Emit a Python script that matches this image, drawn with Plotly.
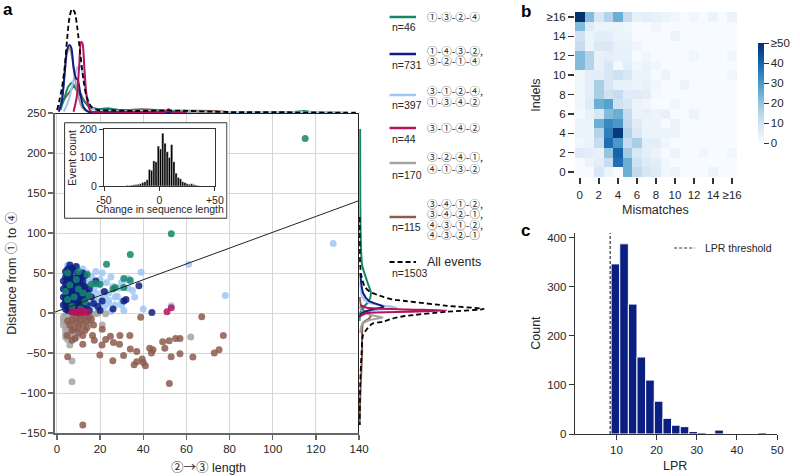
import plotly.graph_objects as go

FONT = "Liberation Sans, Arial, DejaVu Sans, sans-serif"
CJK = "Noto Sans CJK JP"
TXT = "#262626"
W, H = 800, 476

C_GREEN = "#13866b"
C_NAVY = "#0d1f80"
C_LBLUE = "#9fc7f3"
C_CRIM = "#b5145d"
C_GRAY = "#a4a4a4"
C_BROWN = "#8c5c4c"

# ---------------- panel a: scatter data ----------------
navy_x = [4,5,6,7,8,10,12,13, 4,5,6,7,8,9,10,11,12, 4,5,6,7,8,9,10,11,13,
          4,5,6,7,8,9,10,11,12,14, 4,5,6,7,8,9,10,11,12,13, 4,5,6,7,8,9,10,11,12,14,
          4,5,6,7,8,9,10,11,13,15, 3,3,3,3,16,15,17,19,21, 22,31,32,38,44,18,26,20,6,9,
          5,7,9,11,6,8,10,12,4,6]
navy_y = [52,55,50,56,53,48,50,47, 45,42,46,40,44,41,38,43,40, 36,33,38,35,30,34,31,36,33,
          28,25,29,26,22,27,24,28,23,26, 20,17,21,18,14,19,16,20,15,18, 12,9,13,10,7,11,8,12,6,10,
          5,3,6,2,4,3,2,5,4,3, 40,30,20,10,20,30,12,8,15, 27,15,17,34,0.5,40,5,3,60,58,
          47,31,22,9,24,37,44,33,16,43]

lblue_x = [128,78,61,53,39,33,33,29,24,22,20,18,15,24,28,33,30,26,21,16,18,21,8,13,22,24,30,30,27,17,
           15,12,14,10,11,13,14,16,12,19,9,10,8,17,19,20,23,25,35,36,40,31,25,6,7,5,15,13,27,22,18]
lblue_y = [87,22,61,9,51,43,41,31,25,21,16,14,11,16,21,31,38,33,25,46,52,50,58,31,25,12,15,10,20,18,
           24,55,50,45,35,20,5,8,3,2,25,12,35,30,35,42,38,45,28,20,5,3,2,15,45,60,38,45,10,8,25]

green_x = [115,53,34,23,34,14,5,20,10,27,5,13,16,31,31,26,18,8,7,12,6,9,11,15,4,10]
green_y = [218,99,73,61,41,48,50,36,30,32,17,14,36,32,43,30,37,20,8,25,35,42,5,22,27,52]

crim_x = [11.5,12,8,10,11,13,9,12,10.5,51,53,14,7]
crim_y = [2,1,2,1,3,2,0.5,3,0.5,1.6,6.7,1,1]

gray_x = [62,7,7,5,4,4,5,6,5,6,7,8,19,22.6,21,3,3,4,9,10,12,6,8,4,3,5,7,10,14,16,13,11,9,6,18,15,4,6]
gray_y = [-30,-60,-86,-33,-25,-20,-17,-13,-8,-5,-3,-2,0,-1,-15,-10,-5,-3,-8,-3,-6,-20,-12,-30,-15,-23,-28,-14,
          -4,-2,-10,-22,-30,-40,-1,-12,-12,-26]

brown_x = [38.8,67.1,77.1,75.1,72.9,63,57,57,55,52,49,50,52.9,52.1,43,44.5,43.8,39.5,40,41,37,35.8,37,34,30.9,
           33.8,29.2,29,26.2,25.9,22.6,24.8,19.9,20.9,21,16.5,17.3,12,12,5,7,8.4,4.7,
           5,6,7,8,9,10,11,12,13,14,15,16,17,10,9,11,13,7,12,14]
brown_y = [-5.4,-4.6,-28,-46,-50,-55,-51,-32,-32,-34.6,-36,-44,-54.6,-88,-44,-46,-50,-57.5,-62,-66,-61,-64.6,-48,-45,-53,
           -28,-28,-39,-37,-59.6,-33,-29,-52.5,-40,-20.4,-28,-34,-39,-140,-54.6,-34,-32,-28,
           -10,-15,-8,-20,-12,-18,-9,-14,-22,-10,-5,-8,-15,-25,-5,-3,-4,-22,-28,-18]

fit_x = [-0.9, 140]
fit_y = [1.1, 140.5]

# ---------------- marginal KDE curves ----------------
top_black_x = [0.1,1.2,2.4,3.6,4.7,5.8,7,8.2,9.4,10.8,12.3,13.8,16,19,26.7,37,52,79,110,133,141]
top_black_h = [3,13,26,46,73,95,104,101,86,60,33,16,6,3,2.5,2,2.5,1,0.7,0.3,0.2]
top_navy_x = [0.9,2.4,3.6,4.7,5.8,6.7,7.7,8.8,9.7,10.8,12.3,14.5,20,40,60]
top_navy_h = [1.3,13,40,63,68,65,46,35,33,20,6,1.3,0.8,0.8,0.3]
top_gray_x = [1.4,3.2,4.7,5.8,7,8.5,10,11.8,14.5,25,40,62,80]
top_gray_h = [3,30,60,65,56,33,16,5,1.3,0.8,0.6,1.2,0.3]
top_crim_x = [7.7,9.2,10.3,11.2,11.8,12.7,13.8,15.3,17,35,50.2,51.7,53.2,60]
top_crim_h = [1.3,16,46,71,70,46,16,3,0.5,0.3,1.3,3.7,1.3,0.3]
top_lblue_x = [3.2,5.5,7.7,9.7,10.8,11.8,13.3,15.3,17.6,25,40,62,78,100,128,135]
top_lblue_h = [1.3,13,33,46,47,41,23,8,3,2,1.5,1.5,1,0.8,1,0.5]
top_green_x = [1.7,3.6,5.2,7,8.5,10,12.3,14.5,17.6,23.6,26.7,34,42,52.4,70,110,114.5,119]
top_green_h = [3,16,26,30,25,20,13,7,3.7,4.7,3.7,1.3,1,2,0.5,1,2,0.5]
top_brown_x = [0.9,3.2,5.5,7.7,9.2,10.8,13,16,20.6,31,40,52,73,82]
top_brown_h = [3,13,20,26,25,20,11,5.7,3.7,3,3.7,2.3,2,0.3]

r_black_w = [0.5,1,2.5,5.7,10.7,24,34,47,90,127,90,47,34,24,14,10.7,4,2.5,1,0.5]
r_black_y = [120,60,45,33,26.7,20.4,17,15,9,5,1.6,-3.75,-7,-11,-13,-16,-27.5,-50,-90,-140]
r_crim_w = [1,8,50,89,50,8,1]
r_crim_y = [10,6.5,4.5,3,1.5,0,-4]
r_lblue_w = [1,3,8,20,38,20,5,1]
r_lblue_y = [40,20,14,10,7,4,1,-5]
r_navy_w = [1,4,10,25,12,3,0.5]
r_navy_y = [50,25,15,8,4,0,-5]
r_gray_w = [0.5,3,10,24,10,3,1]
r_gray_y = [8,2,-2,-5.5,-9,-14,-25]
r_brown_w = [0.5,3,12,10,4,3,3,2,1,0.5]
r_brown_y = [20,5,-3,-7,-12,-25,-50,-80,-110,-140]
r_green_w = [1,1.5,3,8,12,10,5,1,0.5]
r_green_y = [230,100,60,40,25,15,8,0,-10]

inset_x = [-29,-27,-25,-23,-21,-19,-17,-15,-13,-11,-9,-7,-5,-3,-1,1,3,5,7,9,11,13,15,17,19,21,23,25,27,29,31,33,35]
inset_y = [2,1,3,4,5,6,8,12,15,22,58,55,88,85,140,130,185,150,120,100,145,85,45,30,25,15,12,8,6,8,5,3,1]

# ---------------- panel b: heatmap ----------------
heat_ticks = ["0","2","4","6","8","10","12","14","≥16"]
heat_z = [
    [0,0,8,3,0,25,13,8,6,2,3,0,0,0,3,0,0],
    [0,3,5,12,38,25,10,6,5,2,0,0,0,0,0,0,0],
    [6,5,4,20,40,18,8,5,3,0,3,0,0,2,0,0,2],
    [2,3,12,38,30,12,17,5,5,2,0,0,0,0,0,0,0],
    [3,3,15,35,48,15,7,3,3,3,3,0,0,0,0,0,0],
    [3,3,25,33,30,13,6,3,3,0,3,0,0,0,0,0,0],
    [1,4,8,22,25,12,3,4,3,4,0,0,3,0,0,0,0],
    [2,6,25,28,10,8,3,2,0,0,2,0,0,0,0,0,0],
    [2,5,17,10,12,6,6,5,1,0,0,0,0,0,0,0,0],
    [2,5,17,8,4,4,3,4,2,0,0,3,0,0,0,0,0],
    [2,5,5,8,10,8,3,3,0,3,0,0,0,0,0,0,2],
    [22,15,4,8,1,5,2,3,2,0,0,0,0,0,0,0,0],
    [22,15,4,5,4,4,0,2,0,0,0,0,2,0,0,0,2],
    [12,3,7,7,4,4,2,0,0,0,0,0,0,0,0,0,0],
    [10,3,5,5,3,3,0,0,0,0,3,0,0,0,0,0,0],
    [22,6,3,3,3,2,0,0,2,0,0,0,0,0,0,0,0],
    [55,22,8,15,25,12,4,5,4,3,2,0,2,0,3,0,3],
]

# ---------------- panel c: LPR histogram ----------------
lpr_x = [9.75,11.9,14.05,16.2,18.35,20.5,22.65,24.8,26.95,29.1,31.25,33.4,35.55,37.7,39.85,42.0,44.15,46.3]
lpr_count = [347,388,265,157,110,67,32,18,15,5,3,1,8,1,0,0,0,3]
lpr_threshold = 8.45

def dx(a, b):
    return [a / W, b / W]

def dy(top, bottom):
    return [1 - bottom / H, 1 - top / H]

fig = go.Figure(layout=dict(template="none"))

for xs, ys, c in [(lblue_x, lblue_y, C_LBLUE), (gray_x, gray_y, C_GRAY), (brown_x, brown_y, C_BROWN),
                  (navy_x, navy_y, C_NAVY), (green_x, green_y, C_GREEN), (crim_x, crim_y, C_CRIM)]:
    fig.add_trace(go.Scatter(x=xs, y=ys, mode="markers", xaxis="x", yaxis="y",
                             marker=dict(color=c, size=7, opacity=0.85, line=dict(width=0)),
                             hoverinfo="skip"))
fig.add_trace(go.Scatter(x=fit_x, y=fit_y, mode="lines", xaxis="x", yaxis="y",
                         line=dict(color="#222", width=1), hoverinfo="skip"))

for xs, hs, c in [(top_brown_x, top_brown_h, C_BROWN), (top_green_x, top_green_h, C_GREEN),
                  (top_lblue_x, top_lblue_h, C_LBLUE), (top_gray_x, top_gray_h, C_GRAY),
                  (top_navy_x, top_navy_h, C_NAVY), (top_crim_x, top_crim_h, C_CRIM)]:
    fig.add_trace(go.Scatter(x=xs, y=hs, mode="lines", xaxis="x2", yaxis="y2",
                             line=dict(color=c, width=2, shape="spline", smoothing=0.8), hoverinfo="skip"))
fig.add_trace(go.Scatter(x=top_black_x, y=top_black_h, mode="lines", xaxis="x2", yaxis="y2",
                         line=dict(color="black", width=1.8, dash="5px,3px", shape="spline", smoothing=0.8),
                         hoverinfo="skip"))

for ws, ys, c in [(r_brown_w, r_brown_y, C_BROWN), (r_green_w, r_green_y, C_GREEN),
                  (r_gray_w, r_gray_y, C_GRAY), (r_lblue_w, r_lblue_y, C_LBLUE),
                  (r_navy_w, r_navy_y, C_NAVY), (r_crim_w, r_crim_y, C_CRIM)]:
    fig.add_trace(go.Scatter(x=ws, y=ys, mode="lines", xaxis="x3", yaxis="y3",
                             line=dict(color=c, width=2, shape="spline", smoothing=0.6), hoverinfo="skip"))
fig.add_trace(go.Scatter(x=r_black_w, y=r_black_y, mode="lines", xaxis="x3", yaxis="y3",
                         line=dict(color="black", width=1.8, dash="5px,3px", shape="spline", smoothing=0.6),
                         hoverinfo="skip"))

fig.add_trace(go.Scatter(x=[0, 1, 1, 0, 0], y=[0, 0, 1, 1, 0], mode="lines", fill="toself",
                         fillcolor="white", line=dict(color="#333", width=1), xaxis="x4", yaxis="y4",
                         hoverinfo="skip"))
fig.add_trace(go.Bar(x=inset_x, y=inset_y, width=2, xaxis="x5", yaxis="y5",
                     marker=dict(color="black", line=dict(color="white", width=0.4)), hoverinfo="skip"))

blues = [[0, "rgb(247,251,255)"], [0.125, "rgb(222,235,247)"], [0.25, "rgb(198,219,239)"],
         [0.375, "rgb(158,202,225)"], [0.5, "rgb(107,174,214)"], [0.625, "rgb(66,146,198)"],
         [0.75, "rgb(33,113,181)"], [0.875, "rgb(8,81,156)"], [1, "rgb(8,48,107)"]]
fig.add_trace(go.Heatmap(z=heat_z, x=list(range(17)), y=list(range(17)), xaxis="x6", yaxis="y6",
                         colorscale=blues, zmin=0, zmax=50, hoverinfo="skip",
                         colorbar=dict(x=762 / W, xanchor="left", y=1 - 93 / H, yanchor="middle",
                                       len=120 / H, lenmode="fraction", thickness=6, outlinewidth=0,
                                       tickvals=[0, 10, 20, 30, 40, 50],
                                       ticktext=["0", "10", "20", "30", "40", "≥50"],
                                       ticks="outside", ticklen=5, tickcolor="#333",
                                       tickfont=dict(size=11.5, color=TXT, family=FONT))))

fig.add_trace(go.Bar(x=lpr_x, y=lpr_count, width=2.15, xaxis="x7", yaxis="y7",
                     marker=dict(color="#0b1e82", line=dict(color="white", width=1)), hoverinfo="skip"))
fig.add_trace(go.Scatter(x=[lpr_threshold, lpr_threshold], y=[0, 410], mode="lines", xaxis="x7", yaxis="y7",
                         line=dict(color="#333", width=1.2, dash="3px,2px"), hoverinfo="skip"))

tickfont = dict(size=11.5, color=TXT, family=FONT)
SP = "#666"
hidden = dict(visible=False, automargin=False, showgrid=False, zeroline=False)

fig.update_layout(
    width=W, height=H, margin=dict(l=0, r=0, t=0, b=0, pad=0), autosize=False,
    paper_bgcolor="white", plot_bgcolor="white", showlegend=False,
    font=dict(family=FONT, color=TXT),
    xaxis=dict(domain=dx(56, 366), range=[-0.9, 140], tickvals=[0, 20, 40, 60, 80, 100, 120, 140],
               showgrid=True, gridcolor="#d6d6d6", gridwidth=1, zeroline=False, automargin=False,
               showline=True, linecolor=SP, linewidth=1.5, ticks="outside", ticklen=5, tickcolor=SP,
               tickwidth=1.3, tickfont=tickfont, anchor="y"),
    yaxis=dict(domain=dy(113, 433), range=[-150, 250], tickvals=[-150, -100, -50, 0, 50, 100, 150, 200, 250],
               ticktext=["−150", "−100", "−50", "0", "50", "100", "150", "200", "250"],
               showgrid=True, gridcolor="#d6d6d6", gridwidth=1, zeroline=False, automargin=False,
               showline=True, linecolor=SP, linewidth=1.5, ticks="outside", ticklen=5, tickcolor=SP,
               tickwidth=1.3, tickfont=tickfont, anchor="x"),
    xaxis2=dict(domain=dx(56, 366), range=[-0.9, 140], showline=True, linecolor="#222", linewidth=1,
                showticklabels=False, ticks="", showgrid=False, zeroline=False, automargin=False, anchor="y2"),
    yaxis2=dict(domain=dy(3, 113), range=[0, 110], anchor="x2", **hidden),
    xaxis3=dict(domain=dx(366, 500), range=[0, 134], anchor="y3", **hidden),
    yaxis3=dict(domain=dy(113, 433), range=[-150, 250], showline=True, linecolor="#222", linewidth=1,
                showticklabels=False, ticks="", showgrid=False, zeroline=False, automargin=False, anchor="x3"),
    xaxis4=dict(domain=dx(65, 232), range=[-0.005, 1.005], anchor="y4", **hidden),
    yaxis4=dict(domain=dy(122, 219), range=[-0.008, 1.008], anchor="x4", **hidden),
    xaxis5=dict(domain=dx(106, 219), range=[-50, 50], tickvals=[-50, 0, 50], ticktext=["-50", "0", "+50"],
                showline=True, mirror=True, linecolor="#333", linewidth=1, ticks="outside", ticklen=4,
                tickcolor="#333", showgrid=False, zeroline=False, automargin=False,
                tickfont=dict(size=10.5, color=TXT, family=FONT), anchor="y5"),
    yaxis5=dict(domain=dy(129, 186), range=[0, 200], tickvals=[0, 100, 200],
                showline=True, mirror=True, linecolor="#333", linewidth=1, ticks="outside", ticklen=4,
                tickcolor="#333", showgrid=False, zeroline=False, automargin=False,
                tickfont=dict(size=10.5, color=TXT, family=FONT), anchor="x5"),
    xaxis6=dict(domain=dx(586, 751), range=[-0.5, 16.5], tickvals=[0, 2, 4, 6, 8, 10, 12, 14, 16],
                ticktext=heat_ticks, showline=False, showgrid=False, zeroline=False, ticks="outside",
                automargin=False, ticklen=6, tickwidth=1.5, tickcolor="#333", tickfont=tickfont,
                ticklabelstandoff=1, anchor="y6"),
    yaxis6=dict(domain=dy(12, 177), range=[-0.5, 16.5], tickvals=[0, 2, 4, 6, 8, 10, 12, 14, 16],
                ticktext=heat_ticks, showline=False, showgrid=False, zeroline=False, ticks="outside",
                automargin=False, ticklen=6, tickwidth=1.5, tickcolor="#333", tickfont=tickfont, anchor="x6"),
    xaxis7=dict(domain=dx(586, 792), range=[-0.3, 50], tickvals=[10, 20, 30, 40, 50],
                showline=True, linecolor="#333", linewidth=1.3, ticks="outside", ticklen=5, tickcolor="#333",
                showgrid=False, zeroline=False, automargin=False, tickfont=tickfont, anchor="y7"),
    yaxis7=dict(domain=dy(233, 434), range=[0, 410], tickvals=[0, 100, 200, 300, 400],
                showline=True, linecolor="#333", linewidth=1.3, ticks="outside", ticklen=5, tickcolor="#333",
                showgrid=False, zeroline=False, automargin=False, tickfont=tickfont, anchor="x7"),
)

ann = []
shapes = []

def text(px, py, s, size=12, xanchor="center", angle=0, bold=False, family=FONT):
    ann.append(dict(x=px / W, y=1 - py / H, xref="paper", yref="paper", text=("<b>%s</b>" % s) if bold else s,
                    showarrow=False, xanchor=xanchor, yanchor="middle", textangle=angle,
                    font=dict(size=size, color="black" if bold else TXT, family=family)))

def circ(s):
    return "<span style='font-family:%s'>%s</span>" % (CJK, s)

text(8, 9, "a", 17, bold=True)
text(536, 11, "b", 17, bold=True)
text(536, 230, "c", 17, bold=True)

text(212, 466, circ("②→③") + " length", 12.5)
text(10, 273, "Distance from " + circ("①") + " to " + circ("④"), 12.5, angle=-90)
text(73, 158, "Event count", 10.5, angle=-90)
text(163, 209, "Change in sequence length", 10.5)
text(546, 95, "Indels", 12.5, angle=-90)
text(668, 210, "Mismatches", 12.5)
text(546, 333, "Count", 12.5, angle=-90)
text(688, 466, "LPR", 12.5)

shapes.append(dict(type="line", xref="paper", yref="paper", x0=687 / W, x1=708 / W, y0=1 - 248 / H, y1=1 - 248 / H,
                   line=dict(color="#333", width=1.2, dash="3px,2px")))
text(716, 248, "LPR threshold", 10.5, xanchor="left")

legend_items = [
    (C_GREEN, 17, "n=46", 27, [(17, "①-③-②-④")]),
    (C_NAVY, 54, "n=731", 65, [(51, "①-④-③-②,"), (61, "③-②-①-④")]),
    (C_LBLUE, 95, "n=397", 105, [(90, "③-①-②-④,"), (101, "①-③-④-②")]),
    (C_CRIM, 128, "n=44", 139, [(128, "③-①-④-②")]),
    (C_GRAY, 163, "n=170", 175, [(157, "③-②-④-①,"), (168, "④-①-③-②")]),
    (C_BROWN, 217, "n=115", 227, [(203, "③-④-①-②,"), (214, "③-④-②-①,"), (224, "④-③-①-②,"), (234, "④-③-②-①")]),
]
for col, ly, ntxt, ny, labels in legend_items:
    shapes.append(dict(type="line", xref="paper", yref="paper", x0=397 / W, x1=424 / W,
                       y0=1 - ly / H, y1=1 - ly / H, line=dict(color=col, width=2.5)))
    text(397, ny, ntxt, 10.5, xanchor="left")
    for yy, s in labels:
        text(433, yy, s.replace("-", "‑"), 10.5, xanchor="left", family=CJK)
shapes.append(dict(type="line", xref="paper", yref="paper", x0=397 / W, x1=424 / W, y0=1 - 262 / H, y1=1 - 262 / H,
                   line=dict(color="black", width=2, dash="5px,3px")))
text(397, 273, "n=1503", 10.5, xanchor="left")
text(433, 262, "All events", 12.5, xanchor="left")

fig.update_layout(annotations=ann, shapes=shapes)
fig.write_html("out.html", config={"displayModeBar": False, "staticPlot": True},
               post_script="document.body.style.margin='0px';document.body.style.padding='0px';"
                           "document.body.style.overflow='hidden';")
